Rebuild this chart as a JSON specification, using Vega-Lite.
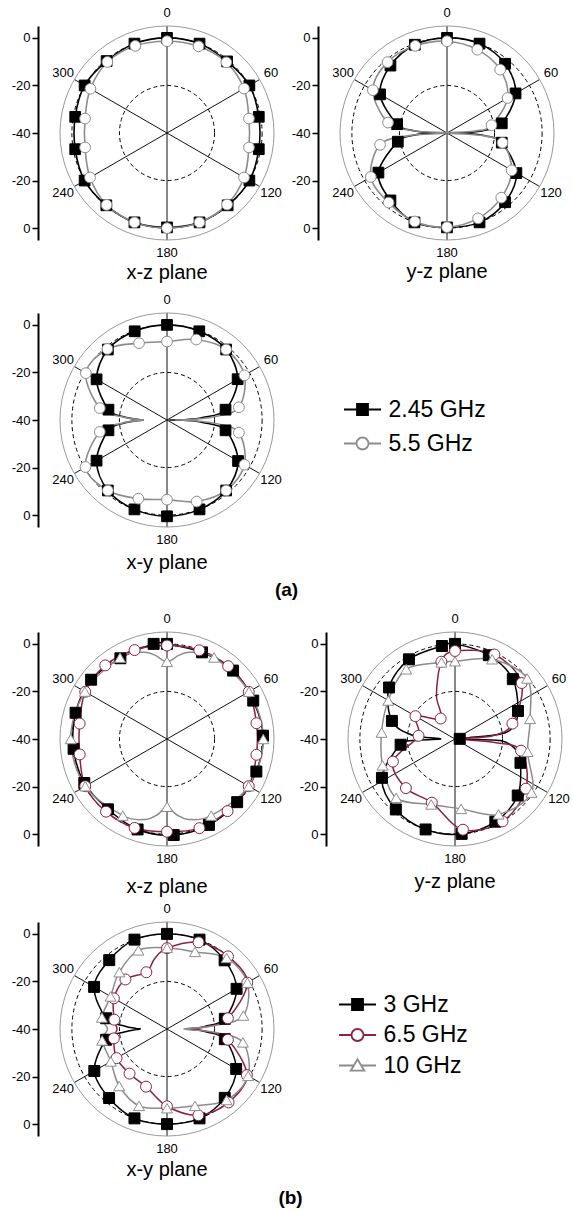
{
"$schema": "https://vega.github.io/schema/vega-lite/v6.json",
"padding": {"left": 11, "top": 6, "right": 0, "bottom": 5},
"config": {"view": {"stroke": null}, "font": "Liberation Sans"},
"datasets": {
"a_xz": [
{"f":"2.45 GHz","a":0,"d":0,"m":1},{"f":"2.45 GHz","a":20,"d":0,"m":1},{"f":"2.45 GHz","a":40,"d":-0.7,"m":1},{"f":"2.45 GHz","a":60,"d":0,"m":1},{"f":"2.45 GHz","a":80,"d":-0.8,"m":1},{"f":"2.45 GHz","a":100,"d":-0.8,"m":1},{"f":"2.45 GHz","a":120,"d":0,"m":1},{"f":"2.45 GHz","a":140,"d":-0.3,"m":1},{"f":"2.45 GHz","a":160,"d":0,"m":1},{"f":"2.45 GHz","a":180,"d":-0.3,"m":1},{"f":"2.45 GHz","a":200,"d":0,"m":1},{"f":"2.45 GHz","a":220,"d":-0.3,"m":1},{"f":"2.45 GHz","a":240,"d":0,"m":1},{"f":"2.45 GHz","a":260,"d":-0.8,"m":1},{"f":"2.45 GHz","a":280,"d":-0.8,"m":1},{"f":"2.45 GHz","a":300,"d":0,"m":1},{"f":"2.45 GHz","a":320,"d":-0.5,"m":1},{"f":"2.45 GHz","a":340,"d":0,"m":1},
{"f":"5.5 GHz","a":0,"d":-1.4,"m":1},{"f":"5.5 GHz","a":20,"d":-1.2,"m":1},{"f":"5.5 GHz","a":40,"d":-1.2,"m":1},{"f":"5.5 GHz","a":60,"d":-2.6,"m":1},{"f":"5.5 GHz","a":80,"d":-5,"m":1},{"f":"5.5 GHz","a":100,"d":-5,"m":1},{"f":"5.5 GHz","a":120,"d":-2.6,"m":1},{"f":"5.5 GHz","a":140,"d":-0.7,"m":1},{"f":"5.5 GHz","a":160,"d":0,"m":1},{"f":"5.5 GHz","a":180,"d":0,"m":1},{"f":"5.5 GHz","a":200,"d":0,"m":1},{"f":"5.5 GHz","a":220,"d":-0.5,"m":1},{"f":"5.5 GHz","a":240,"d":-2.6,"m":1},{"f":"5.5 GHz","a":260,"d":-5,"m":1},{"f":"5.5 GHz","a":280,"d":-5,"m":1},{"f":"5.5 GHz","a":300,"d":-2.8,"m":1},{"f":"5.5 GHz","a":320,"d":-1,"m":1},{"f":"5.5 GHz","a":340,"d":-1,"m":1}
],
"a_yz": [
{"f":"2.45 GHz","a":0,"d":0,"m":1},{"f":"2.45 GHz","a":20,"d":0,"m":1},{"f":"2.45 GHz","a":40,"d":-2,"m":1},{"f":"2.45 GHz","a":60,"d":-6.7,"m":1},{"f":"2.45 GHz","a":80,"d":-16.6,"m":1},{"f":"2.45 GHz","a":86,"d":-24,"m":0},{"f":"2.45 GHz","a":89,"d":-32,"m":0},{"f":"2.45 GHz","a":90,"d":-40,"m":0},{"f":"2.45 GHz","a":91,"d":-32,"m":0},{"f":"2.45 GHz","a":94,"d":-24,"m":0},{"f":"2.45 GHz","a":100,"d":-16.6,"m":1},{"f":"2.45 GHz","a":120,"d":-6.3,"m":1},{"f":"2.45 GHz","a":140,"d":-2,"m":1},{"f":"2.45 GHz","a":160,"d":0,"m":1},{"f":"2.45 GHz","a":180,"d":-0.3,"m":1},{"f":"2.45 GHz","a":200,"d":0,"m":1},{"f":"2.45 GHz","a":220,"d":-3,"m":1},{"f":"2.45 GHz","a":240,"d":-6.7,"m":1},{"f":"2.45 GHz","a":260,"d":-19,"m":1},{"f":"2.45 GHz","a":266,"d":-26,"m":0},{"f":"2.45 GHz","a":269,"d":-33,"m":0},{"f":"2.45 GHz","a":270,"d":-40,"m":0},{"f":"2.45 GHz","a":271,"d":-33,"m":0},{"f":"2.45 GHz","a":274,"d":-26,"m":0},{"f":"2.45 GHz","a":280,"d":-18.7,"m":1},{"f":"2.45 GHz","a":300,"d":-7.5,"m":1},{"f":"2.45 GHz","a":320,"d":-3,"m":1},{"f":"2.45 GHz","a":340,"d":-0.5,"m":1},
{"f":"5.5 GHz","a":0,"d":-1.4,"m":1},{"f":"5.5 GHz","a":20,"d":-2.7,"m":1},{"f":"5.5 GHz","a":40,"d":-5.2,"m":1},{"f":"5.5 GHz","a":60,"d":-10.6,"m":1},{"f":"5.5 GHz","a":80,"d":-21,"m":1},{"f":"5.5 GHz","a":86,"d":-28,"m":0},{"f":"5.5 GHz","a":90,"d":-40,"m":0},{"f":"5.5 GHz","a":94,"d":-26,"m":0},{"f":"5.5 GHz","a":100,"d":-16.3,"m":1},{"f":"5.5 GHz","a":120,"d":-8.6,"m":1},{"f":"5.5 GHz","a":140,"d":-4.5,"m":1},{"f":"5.5 GHz","a":160,"d":-1.8,"m":1},{"f":"5.5 GHz","a":180,"d":-0.4,"m":1},{"f":"5.5 GHz","a":200,"d":-0.4,"m":1},{"f":"5.5 GHz","a":220,"d":-1.8,"m":1},{"f":"5.5 GHz","a":240,"d":-3,"m":1},{"f":"5.5 GHz","a":260,"d":-11.4,"m":1},{"f":"5.5 GHz","a":266,"d":-24,"m":0},{"f":"5.5 GHz","a":270,"d":-40,"m":0},{"f":"5.5 GHz","a":274,"d":-26,"m":0},{"f":"5.5 GHz","a":280,"d":-14.8,"m":1},{"f":"5.5 GHz","a":300,"d":-4,"m":1},{"f":"5.5 GHz","a":320,"d":-1.1,"m":1},{"f":"5.5 GHz","a":340,"d":-1,"m":1}
],
"a_xy": [
{"f":"2.45 GHz","a":0,"d":0,"m":1},{"f":"2.45 GHz","a":20,"d":-0.3,"m":1},{"f":"2.45 GHz","a":40,"d":-1.3,"m":1},{"f":"2.45 GHz","a":60,"d":-5.7,"m":1},{"f":"2.45 GHz","a":80,"d":-15,"m":1},{"f":"2.45 GHz","a":86,"d":-25,"m":0},{"f":"2.45 GHz","a":89,"d":-33,"m":0},{"f":"2.45 GHz","a":90,"d":-39,"m":0},{"f":"2.45 GHz","a":91,"d":-33,"m":0},{"f":"2.45 GHz","a":94,"d":-25,"m":0},{"f":"2.45 GHz","a":100,"d":-15,"m":1},{"f":"2.45 GHz","a":120,"d":-5.5,"m":1},{"f":"2.45 GHz","a":140,"d":-1.3,"m":1},{"f":"2.45 GHz","a":160,"d":0,"m":1},{"f":"2.45 GHz","a":180,"d":0.5,"m":1},{"f":"2.45 GHz","a":200,"d":0,"m":1},{"f":"2.45 GHz","a":220,"d":-1.3,"m":1},{"f":"2.45 GHz","a":240,"d":-5.8,"m":1},{"f":"2.45 GHz","a":260,"d":-15,"m":1},{"f":"2.45 GHz","a":266,"d":-22,"m":0},{"f":"2.45 GHz","a":269,"d":-28,"m":0},{"f":"2.45 GHz","a":270,"d":-30,"m":0},{"f":"2.45 GHz","a":271,"d":-28,"m":0},{"f":"2.45 GHz","a":274,"d":-22,"m":0},{"f":"2.45 GHz","a":280,"d":-15,"m":1},{"f":"2.45 GHz","a":300,"d":-5.8,"m":1},{"f":"2.45 GHz","a":320,"d":-1.3,"m":1},{"f":"2.45 GHz","a":340,"d":-0.3,"m":1},
{"f":"5.5 GHz","a":0,"d":-7,"m":1},{"f":"5.5 GHz","a":20,"d":-4,"m":1},{"f":"5.5 GHz","a":40,"d":-1.3,"m":1},{"f":"5.5 GHz","a":60,"d":-2.4,"m":1},{"f":"5.5 GHz","a":80,"d":-9.3,"m":1},{"f":"5.5 GHz","a":86,"d":-20,"m":0},{"f":"5.5 GHz","a":89,"d":-31,"m":0},{"f":"5.5 GHz","a":90,"d":-36.5,"m":0},{"f":"5.5 GHz","a":91,"d":-31,"m":0},{"f":"5.5 GHz","a":94,"d":-20,"m":0},{"f":"5.5 GHz","a":100,"d":-9.3,"m":1},{"f":"5.5 GHz","a":120,"d":-2.4,"m":1},{"f":"5.5 GHz","a":140,"d":-1.3,"m":1},{"f":"5.5 GHz","a":160,"d":-3.5,"m":1},{"f":"5.5 GHz","a":180,"d":-6.5,"m":1},{"f":"5.5 GHz","a":200,"d":-4.8,"m":1},{"f":"5.5 GHz","a":220,"d":-1.3,"m":1},{"f":"5.5 GHz","a":240,"d":-0.4,"m":1},{"f":"5.5 GHz","a":260,"d":-11.3,"m":1},{"f":"5.5 GHz","a":266,"d":-21,"m":0},{"f":"5.5 GHz","a":269,"d":-28,"m":0},{"f":"5.5 GHz","a":270,"d":-30,"m":0},{"f":"5.5 GHz","a":271,"d":-28,"m":0},{"f":"5.5 GHz","a":274,"d":-21,"m":0},{"f":"5.5 GHz","a":280,"d":-11.3,"m":1},{"f":"5.5 GHz","a":300,"d":-0.6,"m":1},{"f":"5.5 GHz","a":320,"d":-1,"m":1},{"f":"5.5 GHz","a":340,"d":-5.6,"m":1}
],
"b_xz": [
{"f":"3 GHz","a":0,"d":0,"m":1},{"f":"3 GHz","a":22,"d":-0.7,"m":1},{"f":"3 GHz","a":44,"d":0,"m":1},{"f":"3 GHz","a":66,"d":-0.3,"m":1},{"f":"3 GHz","a":88,"d":0.4,"m":1},{"f":"3 GHz","a":110,"d":0,"m":1},{"f":"3 GHz","a":132,"d":-0.3,"m":1},{"f":"3 GHz","a":154,"d":0.2,"m":1},{"f":"3 GHz","a":176,"d":0.5,"m":1},{"f":"3 GHz","a":198,"d":0,"m":1},{"f":"3 GHz","a":220,"d":-1.4,"m":1},{"f":"3 GHz","a":242,"d":-0.6,"m":1},{"f":"3 GHz","a":264,"d":-0.5,"m":1},{"f":"3 GHz","a":286,"d":0,"m":1},{"f":"3 GHz","a":308,"d":0.5,"m":1},{"f":"3 GHz","a":330,"d":-0.8,"m":1},{"f":"3 GHz","a":352,"d":0.4,"m":1},
{"f":"6.5 GHz","a":0,"d":-0.7,"m":1},{"f":"6.5 GHz","a":20,"d":-0.3,"m":1},{"f":"6.5 GHz","a":40,"d":0,"m":1},{"f":"6.5 GHz","a":60,"d":-0.3,"m":1},{"f":"6.5 GHz","a":80,"d":-1.8,"m":1},{"f":"6.5 GHz","a":100,"d":-1.8,"m":1},{"f":"6.5 GHz","a":120,"d":-0.3,"m":1},{"f":"6.5 GHz","a":140,"d":-0.4,"m":1},{"f":"6.5 GHz","a":160,"d":-0.1,"m":1},{"f":"6.5 GHz","a":180,"d":-1,"m":1},{"f":"6.5 GHz","a":200,"d":-0.2,"m":1},{"f":"6.5 GHz","a":220,"d":-0.1,"m":1},{"f":"6.5 GHz","a":240,"d":-0.3,"m":1},{"f":"6.5 GHz","a":260,"d":-2.7,"m":1},{"f":"6.5 GHz","a":280,"d":-2.7,"m":1},{"f":"6.5 GHz","a":300,"d":-0.3,"m":1},{"f":"6.5 GHz","a":320,"d":0.4,"m":1},{"f":"6.5 GHz","a":340,"d":-0.2,"m":1},
{"f":"10 GHz","a":0,"d":-7.5,"m":1},{"f":"10 GHz","a":8,"d":-4.5,"m":0},{"f":"10 GHz","a":15,"d":-2.2,"m":0},{"f":"10 GHz","a":30,"d":-0.4,"m":1},{"f":"10 GHz","a":60,"d":-0.2,"m":1},{"f":"10 GHz","a":90,"d":0.5,"m":1},{"f":"10 GHz","a":120,"d":-0.3,"m":1},{"f":"10 GHz","a":150,"d":-2.8,"m":1},{"f":"10 GHz","a":165,"d":-5,"m":0},{"f":"10 GHz","a":173,"d":-8,"m":0},{"f":"10 GHz","a":180,"d":-11.5,"m":1},{"f":"10 GHz","a":187,"d":-8,"m":0},{"f":"10 GHz","a":195,"d":-5,"m":0},{"f":"10 GHz","a":210,"d":-2.8,"m":1},{"f":"10 GHz","a":240,"d":-0.3,"m":1},{"f":"10 GHz","a":270,"d":0.5,"m":1},{"f":"10 GHz","a":300,"d":-0.1,"m":1},{"f":"10 GHz","a":330,"d":-0.5,"m":1},{"f":"10 GHz","a":345,"d":-2.2,"m":0},{"f":"10 GHz","a":352,"d":-4.5,"m":0}
],
"b_yz": [
{"f":"3 GHz","a":0,"d":0,"m":1},{"f":"3 GHz","a":22,"d":-2,"m":1},{"f":"3 GHz","a":44,"d":-5,"m":1},{"f":"3 GHz","a":66,"d":-11,"m":1},{"f":"3 GHz","a":78,"d":-15,"m":0},{"f":"3 GHz","a":84,"d":-21,"m":0},{"f":"3 GHz","a":88,"d":-38,"m":1},{"f":"3 GHz","a":92,"d":-21,"m":0},{"f":"3 GHz","a":100,"d":-14,"m":0},{"f":"3 GHz","a":110,"d":-10.7,"m":1},{"f":"3 GHz","a":132,"d":-4.5,"m":1},{"f":"3 GHz","a":154,"d":-1.3,"m":1},{"f":"3 GHz","a":176,"d":0,"m":1},{"f":"3 GHz","a":198,"d":0,"m":1},{"f":"3 GHz","a":220,"d":-1.3,"m":1},{"f":"3 GHz","a":242,"d":-5.2,"m":1},{"f":"3 GHz","a":264,"d":-17,"m":1},{"f":"3 GHz","a":268,"d":-25,"m":0},{"f":"3 GHz","a":271,"d":-34,"m":0},{"f":"3 GHz","a":275,"d":-22,"m":0},{"f":"3 GHz","a":286,"d":-12.4,"m":1},{"f":"3 GHz","a":308,"d":-4.8,"m":1},{"f":"3 GHz","a":330,"d":-1.3,"m":1},{"f":"3 GHz","a":352,"d":-0.5,"m":1},
{"f":"6.5 GHz","a":0,"d":-3,"m":1},{"f":"6.5 GHz","a":25,"d":-0.8,"m":1},{"f":"6.5 GHz","a":50,"d":-3.4,"m":1},{"f":"6.5 GHz","a":75,"d":-15,"m":1},{"f":"6.5 GHz","a":85,"d":-24,"m":0},{"f":"6.5 GHz","a":90,"d":-38,"m":0},{"f":"6.5 GHz","a":95,"d":-24,"m":0},{"f":"6.5 GHz","a":100,"d":-11.8,"m":1},{"f":"6.5 GHz","a":125,"d":-3.6,"m":1},{"f":"6.5 GHz","a":150,"d":0,"m":1},{"f":"6.5 GHz","a":175,"d":-1.7,"m":1},{"f":"6.5 GHz","a":200,"d":-11.5,"m":1},{"f":"6.5 GHz","a":225,"d":-10.8,"m":1},{"f":"6.5 GHz","a":250,"d":-12.2,"m":1},{"f":"6.5 GHz","a":275,"d":-24.6,"m":1},{"f":"6.5 GHz","a":300,"d":-20.8,"m":1},{"f":"6.5 GHz","a":325,"d":-29.5,"m":1},{"f":"6.5 GHz","a":337,"d":-20,"m":0},{"f":"6.5 GHz","a":350,"d":-7,"m":1},
{"f":"10 GHz","a":0,"d":-7.3,"m":1},{"f":"10 GHz","a":25,"d":-3,"m":1},{"f":"10 GHz","a":50,"d":-0.4,"m":1},{"f":"10 GHz","a":75,"d":-7.3,"m":1},{"f":"10 GHz","a":100,"d":-9,"m":1},{"f":"10 GHz","a":125,"d":-0.7,"m":1},{"f":"10 GHz","a":150,"d":-3.4,"m":1},{"f":"10 GHz","a":175,"d":-10.5,"m":1},{"f":"10 GHz","a":200,"d":-10.7,"m":1},{"f":"10 GHz","a":225,"d":-5,"m":1},{"f":"10 GHz","a":250,"d":-7.6,"m":1},{"f":"10 GHz","a":275,"d":-9,"m":1},{"f":"10 GHz","a":300,"d":-7.6,"m":1},{"f":"10 GHz","a":325,"d":-4.2,"m":1},{"f":"10 GHz","a":350,"d":-7.3,"m":1}
],
"b_xy": [
{"f":"3 GHz","a":0,"d":0,"m":1},{"f":"3 GHz","a":20,"d":0,"m":1},{"f":"3 GHz","a":40,"d":-2.3,"m":1},{"f":"3 GHz","a":60,"d":-6.2,"m":1},{"f":"3 GHz","a":80,"d":-15.3,"m":1},{"f":"3 GHz","a":86,"d":-24,"m":0},{"f":"3 GHz","a":89,"d":-29,"m":0},{"f":"3 GHz","a":90,"d":-31,"m":0},{"f":"3 GHz","a":91,"d":-29,"m":0},{"f":"3 GHz","a":94,"d":-24,"m":0},{"f":"3 GHz","a":100,"d":-15.3,"m":1},{"f":"3 GHz","a":120,"d":-6.4,"m":1},{"f":"3 GHz","a":140,"d":-2.2,"m":1},{"f":"3 GHz","a":160,"d":0,"m":1},{"f":"3 GHz","a":180,"d":0,"m":1},{"f":"3 GHz","a":200,"d":0,"m":1},{"f":"3 GHz","a":220,"d":-2.1,"m":1},{"f":"3 GHz","a":240,"d":-4.7,"m":1},{"f":"3 GHz","a":260,"d":-14,"m":1},{"f":"3 GHz","a":266,"d":-22,"m":0},{"f":"3 GHz","a":269,"d":-27,"m":0},{"f":"3 GHz","a":270,"d":-28.8,"m":0},{"f":"3 GHz","a":271,"d":-27,"m":0},{"f":"3 GHz","a":274,"d":-22,"m":0},{"f":"3 GHz","a":280,"d":-14,"m":1},{"f":"3 GHz","a":300,"d":-4.6,"m":1},{"f":"3 GHz","a":320,"d":-2.2,"m":1},{"f":"3 GHz","a":340,"d":0,"m":1},
{"f":"6.5 GHz","a":0,"d":-6,"m":1},{"f":"6.5 GHz","a":20,"d":-1.2,"m":1},{"f":"6.5 GHz","a":40,"d":-0.1,"m":1},{"f":"6.5 GHz","a":60,"d":-1,"m":1},{"f":"6.5 GHz","a":80,"d":-14,"m":1},{"f":"6.5 GHz","a":87,"d":-24,"m":0},{"f":"6.5 GHz","a":90,"d":-32,"m":0},{"f":"6.5 GHz","a":93,"d":-24,"m":0},{"f":"6.5 GHz","a":100,"d":-14,"m":1},{"f":"6.5 GHz","a":120,"d":-1.2,"m":1},{"f":"6.5 GHz","a":140,"d":0.3,"m":1},{"f":"6.5 GHz","a":160,"d":-1.4,"m":1},{"f":"6.5 GHz","a":180,"d":-7.5,"m":1},{"f":"6.5 GHz","a":200,"d":-14.2,"m":1},{"f":"6.5 GHz","a":220,"d":-15.5,"m":1},{"f":"6.5 GHz","a":240,"d":-15.5,"m":1},{"f":"6.5 GHz","a":260,"d":-17.3,"m":1},{"f":"6.5 GHz","a":270,"d":-19,"m":0},{"f":"6.5 GHz","a":280,"d":-17.5,"m":1},{"f":"6.5 GHz","a":300,"d":-14.2,"m":1},{"f":"6.5 GHz","a":320,"d":-12.8,"m":1},{"f":"6.5 GHz","a":340,"d":-14.6,"m":1},{"f":"6.5 GHz","a":350,"d":-10,"m":0},
{"f":"10 GHz","a":0,"d":-5.9,"m":1},{"f":"10 GHz","a":20,"d":-5.5,"m":1},{"f":"10 GHz","a":40,"d":-1,"m":1},{"f":"10 GHz","a":60,"d":-1,"m":1},{"f":"10 GHz","a":80,"d":-7.4,"m":1},{"f":"10 GHz","a":86,"d":-20,"m":0},{"f":"10 GHz","a":90,"d":-33,"m":0},{"f":"10 GHz","a":94,"d":-20,"m":0},{"f":"10 GHz","a":100,"d":-7.6,"m":1},{"f":"10 GHz","a":120,"d":-0.6,"m":1},{"f":"10 GHz","a":140,"d":-1,"m":1},{"f":"10 GHz","a":160,"d":-5.6,"m":1},{"f":"10 GHz","a":180,"d":-6.7,"m":1},{"f":"10 GHz","a":200,"d":-5.6,"m":1},{"f":"10 GHz","a":220,"d":-8.7,"m":1},{"f":"10 GHz","a":240,"d":-12.7,"m":1},{"f":"10 GHz","a":260,"d":-12.3,"m":1},{"f":"10 GHz","a":270,"d":-15,"m":0},{"f":"10 GHz","a":280,"d":-12.2,"m":1},{"f":"10 GHz","a":300,"d":-12.6,"m":1},{"f":"10 GHz","a":320,"d":-8.8,"m":1},{"f":"10 GHz","a":340,"d":-4.8,"m":1}
]
},
"resolve": {"scale": {"shape": "independent", "fill": "independent", "stroke": "independent", "size": "independent"}, "legend": {"shape": "independent", "fill": "independent", "stroke": "independent", "size": "independent"}},
"spacing": 11,
"vconcat": [
{
"title": {"text": "(a)", "orient": "bottom", "anchor": "middle", "fontSize": 19, "fontWeight": "bold", "font": "Liberation Sans", "color": "#000", "offset": 8},
"resolve": {"scale": {"shape": "independent", "fill": "independent", "stroke": "independent", "size": "independent"}, "legend": {"shape": "independent", "fill": "independent", "stroke": "independent", "size": "independent"}},
"spacing": 9,
"vconcat": [
{
"bounds": "flush",
"spacing": 66,
"resolve": {"scale": {"shape": "independent", "fill": "independent", "stroke": "independent", "size": "independent"}, "legend": {"shape": "independent", "fill": "independent", "stroke": "independent", "size": "independent"}},
"hconcat": [
{
"width": 214, "height": 214,
"title": {"text": "x-z plane", "orient": "bottom", "frame": "group", "anchor": "middle", "fontSize": 20, "fontWeight": "normal", "font": "Liberation Sans", "color": "#000", "offset": 3},
"layer": [
{"data": {"values": [{"a": 0}, {"a": 60}, {"a": 120}]}, "transform": [{"calculate": "45*sin(datum.a*PI/180)", "as": "x"}, {"calculate": "45*cos(datum.a*PI/180)", "as": "y"}, {"calculate": "-datum.x", "as": "x2"}, {"calculate": "-datum.y", "as": "y2"}], "mark": {"type": "rule", "color": "#111", "strokeWidth": 1}, "encoding": {"x": {"field": "x", "type": "quantitative", "scale": {"domain": [-45, 45], "nice": false, "zero": false}, "axis": null}, "y": {"field": "y", "type": "quantitative", "scale": {"domain": [-45, 45], "nice": false, "zero": false}, "axis": {"values": [-40,-35,-30,-25,-20,-15,-10,-5,0,5,10,15,20,25,30,35,40], "labelExpr": "datum.value % 20 === 0 ? '' + (abs(datum.value) - 40) : ''", "offset": 22, "title": null, "grid": false, "domainColor": "#000", "domainWidth": 2, "tickColor": "#000", "tickWidth": 1.5, "tickSize": {"condition": {"test": "datum.value % 20 === 0", "value": 6}, "value": 3}, "labelFontSize": 13, "labelFont": "Liberation Sans", "labelColor": "#000", "labelPadding": 2, "labelOverlap": false, "labelFlush": false, "labelBound": false}}, "x2": {"field": "x2"}, "y2": {"field": "y2"}}},
{"data": {"values": [{"r": 45}]}, "mark": {"type": "point", "shape": "circle", "filled": false, "stroke": "#9a9a9a", "strokeWidth": 1, "opacity": 1}, "encoding": {"x": {"datum": 0, "type": "quantitative", "scale": {"domain": [-45, 45], "nice": false, "zero": false}, "axis": null}, "y": {"datum": 0, "type": "quantitative", "scale": {"domain": [-45, 45], "nice": false, "zero": false}}, "size": {"field": "r", "type": "quantitative", "scale": {"type": "pow", "exponent": 2, "domain": [0, 45], "range": [0, 45796]}, "legend": null}}},
{"data": {"values": [{"r": 20}, {"r": 40}]}, "mark": {"type": "point", "shape": "circle", "filled": false, "stroke": "#000", "strokeWidth": 1, "strokeDash": [4, 3], "opacity": 1}, "encoding": {"x": {"datum": 0, "type": "quantitative", "scale": {"domain": [-45, 45], "nice": false, "zero": false}, "axis": null}, "y": {"datum": 0, "type": "quantitative", "scale": {"domain": [-45, 45], "nice": false, "zero": false}}, "size": {"field": "r", "type": "quantitative", "scale": {"type": "pow", "exponent": 2, "domain": [0, 45], "range": [0, 45796]}, "legend": null}}},
{"data": {"values": [{"a": 0, "t": "0"}, {"a": 60, "t": "60"}, {"a": 120, "t": "120"}, {"a": 180, "t": "180"}, {"a": 240, "t": "240"}, {"a": 300, "t": "300"}]}, "transform": [{"calculate": "50.5*sin(datum.a*PI/180)", "as": "x"}, {"calculate": "50.5*cos(datum.a*PI/180)", "as": "y"}], "mark": {"type": "text", "fontSize": 13, "font": "Liberation Sans", "color": "#000", "align": "center", "baseline": "middle"}, "encoding": {"x": {"field": "x", "type": "quantitative", "scale": {"domain": [-45, 45], "nice": false, "zero": false}, "axis": null}, "y": {"field": "y", "type": "quantitative", "scale": {"domain": [-45, 45], "nice": false, "zero": false}}, "text": {"field": "t"}}},
{"data": {"name": "a_xz"}, "transform": [{"calculate": "max(datum.d + 40, 0)", "as": "rr"}, {"calculate": "datum.rr*sin(datum.a*PI/180)", "as": "x"}, {"calculate": "datum.rr*cos(datum.a*PI/180)", "as": "y"}], "mark": {"type": "line", "interpolate": "cardinal-closed", "strokeWidth": 1.6}, "encoding": {"x": {"field": "x", "type": "quantitative", "scale": {"domain": [-45, 45], "nice": false, "zero": false}, "axis": null}, "y": {"field": "y", "type": "quantitative", "scale": {"domain": [-45, 45], "nice": false, "zero": false}}, "order": {"field": "a", "type": "quantitative"}, "stroke": {"field": "f", "type": "nominal", "scale": {"domain": ["2.45 GHz", "5.5 GHz"], "range": ["#000000", "#8c8c8c"]}, "legend": null}}},
{"data": {"name": "a_xz"}, "transform": [{"filter": "datum.m === 1"}, {"calculate": "max(datum.d + 40, 0)", "as": "rr"}, {"calculate": "datum.rr*sin(datum.a*PI/180)", "as": "x"}, {"calculate": "datum.rr*cos(datum.a*PI/180)", "as": "y"}], "mark": {"type": "point", "opacity": 1, "strokeWidth": 1, "size": 115}, "encoding": {"x": {"field": "x", "type": "quantitative", "scale": {"domain": [-45, 45], "nice": false, "zero": false}, "axis": null}, "y": {"field": "y", "type": "quantitative", "scale": {"domain": [-45, 45], "nice": false, "zero": false}}, "shape": {"field": "f", "type": "nominal", "scale": {"domain": ["2.45 GHz", "5.5 GHz"], "range": ["square", "circle"]}, "legend": null}, "fill": {"field": "f", "type": "nominal", "scale": {"domain": ["2.45 GHz", "5.5 GHz"], "range": ["#000000", "#ffffff"]}, "legend": null}, "stroke": {"field": "f", "type": "nominal", "scale": {"domain": ["2.45 GHz", "5.5 GHz"], "range": ["#000000", "#8c8c8c"]}, "legend": null}}}
]
},
{
"width": 214, "height": 214,
"title": {"text": "y-z plane", "orient": "bottom", "frame": "group", "anchor": "middle", "fontSize": 20, "fontWeight": "normal", "font": "Liberation Sans", "color": "#000", "offset": 2},
"layer": [
{"data": {"values": [{"a": 0}, {"a": 60}, {"a": 120}]}, "transform": [{"calculate": "45*sin(datum.a*PI/180)", "as": "x"}, {"calculate": "45*cos(datum.a*PI/180)", "as": "y"}, {"calculate": "-datum.x", "as": "x2"}, {"calculate": "-datum.y", "as": "y2"}], "mark": {"type": "rule", "color": "#111", "strokeWidth": 1}, "encoding": {"x": {"field": "x", "type": "quantitative", "scale": {"domain": [-45, 45], "nice": false, "zero": false}, "axis": null}, "y": {"field": "y", "type": "quantitative", "scale": {"domain": [-45, 45], "nice": false, "zero": false}, "axis": {"values": [-40,-35,-30,-25,-20,-15,-10,-5,0,5,10,15,20,25,30,35,40], "labelExpr": "datum.value % 20 === 0 ? '' + (abs(datum.value) - 40) : ''", "offset": 22, "title": null, "grid": false, "domainColor": "#000", "domainWidth": 2, "tickColor": "#000", "tickWidth": 1.5, "tickSize": {"condition": {"test": "datum.value % 20 === 0", "value": 6}, "value": 3}, "labelFontSize": 13, "labelFont": "Liberation Sans", "labelColor": "#000", "labelPadding": 2, "labelOverlap": false, "labelFlush": false, "labelBound": false}}, "x2": {"field": "x2"}, "y2": {"field": "y2"}}},
{"data": {"values": [{"r": 45}]}, "mark": {"type": "point", "shape": "circle", "filled": false, "stroke": "#9a9a9a", "strokeWidth": 1, "opacity": 1}, "encoding": {"x": {"datum": 0, "type": "quantitative", "scale": {"domain": [-45, 45], "nice": false, "zero": false}, "axis": null}, "y": {"datum": 0, "type": "quantitative", "scale": {"domain": [-45, 45], "nice": false, "zero": false}}, "size": {"field": "r", "type": "quantitative", "scale": {"type": "pow", "exponent": 2, "domain": [0, 45], "range": [0, 45796]}, "legend": null}}},
{"data": {"values": [{"r": 20}, {"r": 40}]}, "mark": {"type": "point", "shape": "circle", "filled": false, "stroke": "#000", "strokeWidth": 1, "strokeDash": [4, 3], "opacity": 1}, "encoding": {"x": {"datum": 0, "type": "quantitative", "scale": {"domain": [-45, 45], "nice": false, "zero": false}, "axis": null}, "y": {"datum": 0, "type": "quantitative", "scale": {"domain": [-45, 45], "nice": false, "zero": false}}, "size": {"field": "r", "type": "quantitative", "scale": {"type": "pow", "exponent": 2, "domain": [0, 45], "range": [0, 45796]}, "legend": null}}},
{"data": {"values": [{"a": 0, "t": "0"}, {"a": 60, "t": "60"}, {"a": 120, "t": "120"}, {"a": 180, "t": "180"}, {"a": 240, "t": "240"}, {"a": 300, "t": "300"}]}, "transform": [{"calculate": "50.5*sin(datum.a*PI/180)", "as": "x"}, {"calculate": "50.5*cos(datum.a*PI/180)", "as": "y"}], "mark": {"type": "text", "fontSize": 13, "font": "Liberation Sans", "color": "#000", "align": "center", "baseline": "middle"}, "encoding": {"x": {"field": "x", "type": "quantitative", "scale": {"domain": [-45, 45], "nice": false, "zero": false}, "axis": null}, "y": {"field": "y", "type": "quantitative", "scale": {"domain": [-45, 45], "nice": false, "zero": false}}, "text": {"field": "t"}}},
{"data": {"name": "a_yz"}, "transform": [{"calculate": "max(datum.d + 40, 0)", "as": "rr"}, {"calculate": "datum.rr*sin(datum.a*PI/180)", "as": "x"}, {"calculate": "datum.rr*cos(datum.a*PI/180)", "as": "y"}], "mark": {"type": "line", "interpolate": "cardinal-closed", "strokeWidth": 1.6}, "encoding": {"x": {"field": "x", "type": "quantitative", "scale": {"domain": [-45, 45], "nice": false, "zero": false}, "axis": null}, "y": {"field": "y", "type": "quantitative", "scale": {"domain": [-45, 45], "nice": false, "zero": false}}, "order": {"field": "a", "type": "quantitative"}, "stroke": {"field": "f", "type": "nominal", "scale": {"domain": ["2.45 GHz", "5.5 GHz"], "range": ["#000000", "#8c8c8c"]}, "legend": null}}},
{"data": {"name": "a_yz"}, "transform": [{"filter": "datum.m === 1"}, {"calculate": "max(datum.d + 40, 0)", "as": "rr"}, {"calculate": "datum.rr*sin(datum.a*PI/180)", "as": "x"}, {"calculate": "datum.rr*cos(datum.a*PI/180)", "as": "y"}], "mark": {"type": "point", "opacity": 1, "strokeWidth": 1, "size": 115}, "encoding": {"x": {"field": "x", "type": "quantitative", "scale": {"domain": [-45, 45], "nice": false, "zero": false}, "axis": null}, "y": {"field": "y", "type": "quantitative", "scale": {"domain": [-45, 45], "nice": false, "zero": false}}, "shape": {"field": "f", "type": "nominal", "scale": {"domain": ["2.45 GHz", "5.5 GHz"], "range": ["square", "circle"]}, "legend": null}, "fill": {"field": "f", "type": "nominal", "scale": {"domain": ["2.45 GHz", "5.5 GHz"], "range": ["#000000", "#ffffff"]}, "legend": null}, "stroke": {"field": "f", "type": "nominal", "scale": {"domain": ["2.45 GHz", "5.5 GHz"], "range": ["#000000", "#8c8c8c"]}, "legend": null}}}
]
}
]
},
{
"width": 214, "height": 214,
"title": {"text": "x-y plane", "orient": "bottom", "frame": "group", "anchor": "middle", "fontSize": 20, "fontWeight": "normal", "font": "Liberation Sans", "color": "#000", "offset": 6},
"resolve": {"scale": {"shape": "independent", "fill": "independent", "stroke": "independent"}, "legend": {"shape": "independent", "fill": "independent", "stroke": "independent"}},
"layer": [
{"data": {"values": [{"a": 0}, {"a": 60}, {"a": 120}]}, "transform": [{"calculate": "45*sin(datum.a*PI/180)", "as": "x"}, {"calculate": "45*cos(datum.a*PI/180)", "as": "y"}, {"calculate": "-datum.x", "as": "x2"}, {"calculate": "-datum.y", "as": "y2"}], "mark": {"type": "rule", "color": "#111", "strokeWidth": 1}, "encoding": {"x": {"field": "x", "type": "quantitative", "scale": {"domain": [-45, 45], "nice": false, "zero": false}, "axis": null}, "y": {"field": "y", "type": "quantitative", "scale": {"domain": [-45, 45], "nice": false, "zero": false}, "axis": {"values": [-40,-35,-30,-25,-20,-15,-10,-5,0,5,10,15,20,25,30,35,40], "labelExpr": "datum.value % 20 === 0 ? '' + (abs(datum.value) - 40) : ''", "offset": 22, "title": null, "grid": false, "domainColor": "#000", "domainWidth": 2, "tickColor": "#000", "tickWidth": 1.5, "tickSize": {"condition": {"test": "datum.value % 20 === 0", "value": 6}, "value": 3}, "labelFontSize": 13, "labelFont": "Liberation Sans", "labelColor": "#000", "labelPadding": 2, "labelOverlap": false, "labelFlush": false, "labelBound": false}}, "x2": {"field": "x2"}, "y2": {"field": "y2"}}},
{"data": {"values": [{"r": 45}]}, "mark": {"type": "point", "shape": "circle", "filled": false, "stroke": "#9a9a9a", "strokeWidth": 1, "opacity": 1}, "encoding": {"x": {"datum": 0, "type": "quantitative", "scale": {"domain": [-45, 45], "nice": false, "zero": false}, "axis": null}, "y": {"datum": 0, "type": "quantitative", "scale": {"domain": [-45, 45], "nice": false, "zero": false}}, "size": {"field": "r", "type": "quantitative", "scale": {"type": "pow", "exponent": 2, "domain": [0, 45], "range": [0, 45796]}, "legend": null}}},
{"data": {"values": [{"r": 20}, {"r": 40}]}, "mark": {"type": "point", "shape": "circle", "filled": false, "stroke": "#000", "strokeWidth": 1, "strokeDash": [4, 3], "opacity": 1}, "encoding": {"x": {"datum": 0, "type": "quantitative", "scale": {"domain": [-45, 45], "nice": false, "zero": false}, "axis": null}, "y": {"datum": 0, "type": "quantitative", "scale": {"domain": [-45, 45], "nice": false, "zero": false}}, "size": {"field": "r", "type": "quantitative", "scale": {"type": "pow", "exponent": 2, "domain": [0, 45], "range": [0, 45796]}, "legend": null}}},
{"data": {"values": [{"a": 0, "t": "0"}, {"a": 60, "t": "60"}, {"a": 120, "t": "120"}, {"a": 180, "t": "180"}, {"a": 240, "t": "240"}, {"a": 300, "t": "300"}]}, "transform": [{"calculate": "50.5*sin(datum.a*PI/180)", "as": "x"}, {"calculate": "50.5*cos(datum.a*PI/180)", "as": "y"}], "mark": {"type": "text", "fontSize": 13, "font": "Liberation Sans", "color": "#000", "align": "center", "baseline": "middle"}, "encoding": {"x": {"field": "x", "type": "quantitative", "scale": {"domain": [-45, 45], "nice": false, "zero": false}, "axis": null}, "y": {"field": "y", "type": "quantitative", "scale": {"domain": [-45, 45], "nice": false, "zero": false}}, "text": {"field": "t"}}},
{"data": {"name": "a_xy"}, "transform": [{"calculate": "max(datum.d + 40, 0)", "as": "rr"}, {"calculate": "datum.rr*sin(datum.a*PI/180)", "as": "x"}, {"calculate": "datum.rr*cos(datum.a*PI/180)", "as": "y"}], "mark": {"type": "line", "interpolate": "cardinal-closed", "strokeWidth": 1.6}, "encoding": {"x": {"field": "x", "type": "quantitative", "scale": {"domain": [-45, 45], "nice": false, "zero": false}, "axis": null}, "y": {"field": "y", "type": "quantitative", "scale": {"domain": [-45, 45], "nice": false, "zero": false}}, "order": {"field": "a", "type": "quantitative"}, "stroke": {"field": "f", "type": "nominal", "scale": {"domain": ["2.45 GHz", "5.5 GHz"], "range": ["#000000", "#8c8c8c"]}, "legend": null}}},
{"data": {"name": "a_xy"}, "transform": [{"filter": "datum.m === 1"}, {"calculate": "max(datum.d + 40, 0)", "as": "rr"}, {"calculate": "datum.rr*sin(datum.a*PI/180)", "as": "x"}, {"calculate": "datum.rr*cos(datum.a*PI/180)", "as": "y"}], "mark": {"type": "point", "opacity": 1, "strokeWidth": 1, "size": 115}, "encoding": {"x": {"field": "x", "type": "quantitative", "scale": {"domain": [-45, 45], "nice": false, "zero": false}, "axis": null}, "y": {"field": "y", "type": "quantitative", "scale": {"domain": [-45, 45], "nice": false, "zero": false}}, "shape": {"field": "f", "type": "nominal", "scale": {"domain": ["2.45 GHz", "5.5 GHz"], "range": ["square", "circle"]}, "legend": null}, "fill": {"field": "f", "type": "nominal", "scale": {"domain": ["2.45 GHz", "5.5 GHz"], "range": ["#000000", "#ffffff"]}, "legend": null}, "stroke": {"field": "f", "type": "nominal", "scale": {"domain": ["2.45 GHz", "5.5 GHz"], "range": ["#000000", "#8c8c8c"]}, "legend": null}}},
{"data": {"name": "a_xy"}, "transform": [{"filter": "false"}], "mark": {"type": "point", "opacity": 1, "strokeWidth": 1.8}, "encoding": {
"shape": {"field": "f", "type": "nominal", "scale": {"domain": ["2.45 GHz", "5.5 GHz"], "range": ["M-1.85,0H-0.55M0.55,0H1.85M-0.55,-0.55H0.55V0.55H-0.55Z", "M-1.85,0H-0.6M0.6,0H1.85M-0.6,0A0.6,0.6,0,1,1,0.6,0A0.6,0.6,0,1,1,-0.6,0Z"]}, "legend": {"title": null, "orient": "none", "legendX": 291, "legendY": 85, "labelFontSize": 23, "labelFont": "Liberation Sans", "labelColor": "#000", "labelOffset": 14.5, "rowPadding": 10, "symbolSize": 400, "symbolStrokeWidth": 1.8, "labelLimit": 300}},
"fill": {"field": "f", "type": "nominal", "scale": {"domain": ["2.45 GHz", "5.5 GHz"], "range": ["#000000", "#ffffff"]}, "legend": {"title": null, "orient": "none", "legendX": 291, "legendY": 85, "labelFontSize": 23, "labelFont": "Liberation Sans", "labelColor": "#000", "labelOffset": 14.5, "rowPadding": 10, "symbolSize": 400, "symbolStrokeWidth": 1.8, "labelLimit": 300}},
"stroke": {"field": "f", "type": "nominal", "scale": {"domain": ["2.45 GHz", "5.5 GHz"], "range": ["#000000", "#8c8c8c"]}, "legend": {"title": null, "orient": "none", "legendX": 291, "legendY": 85, "labelFontSize": 23, "labelFont": "Liberation Sans", "labelColor": "#000", "labelOffset": 14.5, "rowPadding": 10, "symbolSize": 400, "symbolStrokeWidth": 1.8, "labelLimit": 300}}}}
]
}
]
},
{
"title": {"text": "(b)", "orient": "bottom", "anchor": "middle", "fontSize": 19, "fontWeight": "bold", "font": "Liberation Sans", "color": "#000", "offset": 9},
"resolve": {"scale": {"shape": "independent", "fill": "independent", "stroke": "independent", "size": "independent"}, "legend": {"shape": "independent", "fill": "independent", "stroke": "independent", "size": "independent"}},
"spacing": 4,
"vconcat": [
{
"bounds": "flush",
"spacing": 74,
"resolve": {"scale": {"shape": "independent", "fill": "independent", "stroke": "independent", "size": "independent"}, "legend": {"shape": "independent", "fill": "independent", "stroke": "independent", "size": "independent"}},
"hconcat": [
{
"width": 214, "height": 214,
"title": {"text": "x-z plane", "orient": "bottom", "frame": "group", "anchor": "middle", "fontSize": 20, "fontWeight": "normal", "font": "Liberation Sans", "color": "#000", "offset": 11},
"layer": [
{"data": {"values": [{"a": 0}, {"a": 60}, {"a": 120}]}, "transform": [{"calculate": "45*sin(datum.a*PI/180)", "as": "x"}, {"calculate": "45*cos(datum.a*PI/180)", "as": "y"}, {"calculate": "-datum.x", "as": "x2"}, {"calculate": "-datum.y", "as": "y2"}], "mark": {"type": "rule", "color": "#111", "strokeWidth": 1}, "encoding": {"x": {"field": "x", "type": "quantitative", "scale": {"domain": [-45, 45], "nice": false, "zero": false}, "axis": null}, "y": {"field": "y", "type": "quantitative", "scale": {"domain": [-45, 45], "nice": false, "zero": false}, "axis": {"values": [-40,-35,-30,-25,-20,-15,-10,-5,0,5,10,15,20,25,30,35,40], "labelExpr": "datum.value % 20 === 0 ? '' + (abs(datum.value) - 40) : ''", "offset": 22, "title": null, "grid": false, "domainColor": "#000", "domainWidth": 2, "tickColor": "#000", "tickWidth": 1.5, "tickSize": {"condition": {"test": "datum.value % 20 === 0", "value": 6}, "value": 3}, "labelFontSize": 13, "labelFont": "Liberation Sans", "labelColor": "#000", "labelPadding": 2, "labelOverlap": false, "labelFlush": false, "labelBound": false}}, "x2": {"field": "x2"}, "y2": {"field": "y2"}}},
{"data": {"values": [{"r": 45}]}, "mark": {"type": "point", "shape": "circle", "filled": false, "stroke": "#9a9a9a", "strokeWidth": 1, "opacity": 1}, "encoding": {"x": {"datum": 0, "type": "quantitative", "scale": {"domain": [-45, 45], "nice": false, "zero": false}, "axis": null}, "y": {"datum": 0, "type": "quantitative", "scale": {"domain": [-45, 45], "nice": false, "zero": false}}, "size": {"field": "r", "type": "quantitative", "scale": {"type": "pow", "exponent": 2, "domain": [0, 45], "range": [0, 45796]}, "legend": null}}},
{"data": {"values": [{"r": 20}, {"r": 40}]}, "mark": {"type": "point", "shape": "circle", "filled": false, "stroke": "#000", "strokeWidth": 1, "strokeDash": [4, 3], "opacity": 1}, "encoding": {"x": {"datum": 0, "type": "quantitative", "scale": {"domain": [-45, 45], "nice": false, "zero": false}, "axis": null}, "y": {"datum": 0, "type": "quantitative", "scale": {"domain": [-45, 45], "nice": false, "zero": false}}, "size": {"field": "r", "type": "quantitative", "scale": {"type": "pow", "exponent": 2, "domain": [0, 45], "range": [0, 45796]}, "legend": null}}},
{"data": {"values": [{"a": 0, "t": "0"}, {"a": 60, "t": "60"}, {"a": 120, "t": "120"}, {"a": 180, "t": "180"}, {"a": 240, "t": "240"}, {"a": 300, "t": "300"}]}, "transform": [{"calculate": "50.5*sin(datum.a*PI/180)", "as": "x"}, {"calculate": "50.5*cos(datum.a*PI/180)", "as": "y"}], "mark": {"type": "text", "fontSize": 13, "font": "Liberation Sans", "color": "#000", "align": "center", "baseline": "middle"}, "encoding": {"x": {"field": "x", "type": "quantitative", "scale": {"domain": [-45, 45], "nice": false, "zero": false}, "axis": null}, "y": {"field": "y", "type": "quantitative", "scale": {"domain": [-45, 45], "nice": false, "zero": false}}, "text": {"field": "t"}}},
{"data": {"name": "b_xz"}, "transform": [{"calculate": "max(datum.d + 40, 0)", "as": "rr"}, {"calculate": "datum.rr*sin(datum.a*PI/180)", "as": "x"}, {"calculate": "datum.rr*cos(datum.a*PI/180)", "as": "y"}], "mark": {"type": "line", "interpolate": "cardinal-closed", "strokeWidth": 1.5}, "encoding": {"x": {"field": "x", "type": "quantitative", "scale": {"domain": [-45, 45], "nice": false, "zero": false}, "axis": null}, "y": {"field": "y", "type": "quantitative", "scale": {"domain": [-45, 45], "nice": false, "zero": false}}, "order": {"field": "a", "type": "quantitative"}, "stroke": {"field": "f", "type": "nominal", "scale": {"domain": ["3 GHz", "6.5 GHz", "10 GHz"], "range": ["#000000", "#8b2246", "#8c8c8c"]}, "legend": null}}},
{"data": {"name": "b_xz"}, "transform": [{"filter": "datum.m === 1"}, {"calculate": "max(datum.d + 40, 0)", "as": "rr"}, {"calculate": "datum.rr*sin(datum.a*PI/180)", "as": "x"}, {"calculate": "datum.rr*cos(datum.a*PI/180)", "as": "y"}], "mark": {"type": "point", "opacity": 1, "strokeWidth": 1, "size": 120}, "encoding": {"x": {"field": "x", "type": "quantitative", "scale": {"domain": [-45, 45], "nice": false, "zero": false}, "axis": null}, "y": {"field": "y", "type": "quantitative", "scale": {"domain": [-45, 45], "nice": false, "zero": false}}, "shape": {"field": "f", "type": "nominal", "scale": {"domain": ["3 GHz", "6.5 GHz", "10 GHz"], "range": ["square", "circle", "triangle-up"]}, "legend": null}, "fill": {"field": "f", "type": "nominal", "scale": {"domain": ["3 GHz", "6.5 GHz", "10 GHz"], "range": ["#000000", "#ffffff", "#ffffff"]}, "legend": null}, "stroke": {"field": "f", "type": "nominal", "scale": {"domain": ["3 GHz", "6.5 GHz", "10 GHz"], "range": ["#000000", "#8b2246", "#8c8c8c"]}, "legend": null}}}
]
},
{
"width": 214, "height": 214,
"title": {"text": "y-z plane", "orient": "bottom", "frame": "group", "anchor": "middle", "fontSize": 20, "fontWeight": "normal", "font": "Liberation Sans", "color": "#000", "offset": 6},
"layer": [
{"data": {"values": [{"a": 0}, {"a": 60}, {"a": 120}]}, "transform": [{"calculate": "45*sin(datum.a*PI/180)", "as": "x"}, {"calculate": "45*cos(datum.a*PI/180)", "as": "y"}, {"calculate": "-datum.x", "as": "x2"}, {"calculate": "-datum.y", "as": "y2"}], "mark": {"type": "rule", "color": "#111", "strokeWidth": 1}, "encoding": {"x": {"field": "x", "type": "quantitative", "scale": {"domain": [-45, 45], "nice": false, "zero": false}, "axis": null}, "y": {"field": "y", "type": "quantitative", "scale": {"domain": [-45, 45], "nice": false, "zero": false}, "axis": {"values": [-40,-35,-30,-25,-20,-15,-10,-5,0,5,10,15,20,25,30,35,40], "labelExpr": "datum.value % 20 === 0 ? '' + (abs(datum.value) - 40) : ''", "offset": 22, "title": null, "grid": false, "domainColor": "#000", "domainWidth": 2, "tickColor": "#000", "tickWidth": 1.5, "tickSize": {"condition": {"test": "datum.value % 20 === 0", "value": 6}, "value": 3}, "labelFontSize": 13, "labelFont": "Liberation Sans", "labelColor": "#000", "labelPadding": 2, "labelOverlap": false, "labelFlush": false, "labelBound": false}}, "x2": {"field": "x2"}, "y2": {"field": "y2"}}},
{"data": {"values": [{"r": 45}]}, "mark": {"type": "point", "shape": "circle", "filled": false, "stroke": "#9a9a9a", "strokeWidth": 1, "opacity": 1}, "encoding": {"x": {"datum": 0, "type": "quantitative", "scale": {"domain": [-45, 45], "nice": false, "zero": false}, "axis": null}, "y": {"datum": 0, "type": "quantitative", "scale": {"domain": [-45, 45], "nice": false, "zero": false}}, "size": {"field": "r", "type": "quantitative", "scale": {"type": "pow", "exponent": 2, "domain": [0, 45], "range": [0, 45796]}, "legend": null}}},
{"data": {"values": [{"r": 20}, {"r": 40}]}, "mark": {"type": "point", "shape": "circle", "filled": false, "stroke": "#000", "strokeWidth": 1, "strokeDash": [4, 3], "opacity": 1}, "encoding": {"x": {"datum": 0, "type": "quantitative", "scale": {"domain": [-45, 45], "nice": false, "zero": false}, "axis": null}, "y": {"datum": 0, "type": "quantitative", "scale": {"domain": [-45, 45], "nice": false, "zero": false}}, "size": {"field": "r", "type": "quantitative", "scale": {"type": "pow", "exponent": 2, "domain": [0, 45], "range": [0, 45796]}, "legend": null}}},
{"data": {"values": [{"a": 0, "t": "0"}, {"a": 60, "t": "60"}, {"a": 120, "t": "120"}, {"a": 180, "t": "180"}, {"a": 240, "t": "240"}, {"a": 300, "t": "300"}]}, "transform": [{"calculate": "50.5*sin(datum.a*PI/180)", "as": "x"}, {"calculate": "50.5*cos(datum.a*PI/180)", "as": "y"}], "mark": {"type": "text", "fontSize": 13, "font": "Liberation Sans", "color": "#000", "align": "center", "baseline": "middle"}, "encoding": {"x": {"field": "x", "type": "quantitative", "scale": {"domain": [-45, 45], "nice": false, "zero": false}, "axis": null}, "y": {"field": "y", "type": "quantitative", "scale": {"domain": [-45, 45], "nice": false, "zero": false}}, "text": {"field": "t"}}},
{"data": {"name": "b_yz"}, "transform": [{"calculate": "max(datum.d + 40, 0)", "as": "rr"}, {"calculate": "datum.rr*sin(datum.a*PI/180)", "as": "x"}, {"calculate": "datum.rr*cos(datum.a*PI/180)", "as": "y"}], "mark": {"type": "line", "interpolate": "cardinal-closed", "strokeWidth": 1.5}, "encoding": {"x": {"field": "x", "type": "quantitative", "scale": {"domain": [-45, 45], "nice": false, "zero": false}, "axis": null}, "y": {"field": "y", "type": "quantitative", "scale": {"domain": [-45, 45], "nice": false, "zero": false}}, "order": {"field": "a", "type": "quantitative"}, "stroke": {"field": "f", "type": "nominal", "scale": {"domain": ["3 GHz", "6.5 GHz", "10 GHz"], "range": ["#000000", "#8b2246", "#8c8c8c"]}, "legend": null}}},
{"data": {"name": "b_yz"}, "transform": [{"filter": "datum.m === 1"}, {"calculate": "max(datum.d + 40, 0)", "as": "rr"}, {"calculate": "datum.rr*sin(datum.a*PI/180)", "as": "x"}, {"calculate": "datum.rr*cos(datum.a*PI/180)", "as": "y"}], "mark": {"type": "point", "opacity": 1, "strokeWidth": 1, "size": 120}, "encoding": {"x": {"field": "x", "type": "quantitative", "scale": {"domain": [-45, 45], "nice": false, "zero": false}, "axis": null}, "y": {"field": "y", "type": "quantitative", "scale": {"domain": [-45, 45], "nice": false, "zero": false}}, "shape": {"field": "f", "type": "nominal", "scale": {"domain": ["3 GHz", "6.5 GHz", "10 GHz"], "range": ["square", "circle", "triangle-up"]}, "legend": null}, "fill": {"field": "f", "type": "nominal", "scale": {"domain": ["3 GHz", "6.5 GHz", "10 GHz"], "range": ["#000000", "#ffffff", "#ffffff"]}, "legend": null}, "stroke": {"field": "f", "type": "nominal", "scale": {"domain": ["3 GHz", "6.5 GHz", "10 GHz"], "range": ["#000000", "#8b2246", "#8c8c8c"]}, "legend": null}}}
]
}
]
},
{
"width": 214, "height": 214,
"title": {"text": "x-y plane", "orient": "bottom", "frame": "group", "anchor": "middle", "fontSize": 20, "fontWeight": "normal", "font": "Liberation Sans", "color": "#000", "offset": 4},
"resolve": {"scale": {"shape": "independent", "fill": "independent", "stroke": "independent"}, "legend": {"shape": "independent", "fill": "independent", "stroke": "independent"}},
"layer": [
{"data": {"values": [{"a": 0}, {"a": 60}, {"a": 120}]}, "transform": [{"calculate": "45*sin(datum.a*PI/180)", "as": "x"}, {"calculate": "45*cos(datum.a*PI/180)", "as": "y"}, {"calculate": "-datum.x", "as": "x2"}, {"calculate": "-datum.y", "as": "y2"}], "mark": {"type": "rule", "color": "#111", "strokeWidth": 1}, "encoding": {"x": {"field": "x", "type": "quantitative", "scale": {"domain": [-45, 45], "nice": false, "zero": false}, "axis": null}, "y": {"field": "y", "type": "quantitative", "scale": {"domain": [-45, 45], "nice": false, "zero": false}, "axis": {"values": [-40,-35,-30,-25,-20,-15,-10,-5,0,5,10,15,20,25,30,35,40], "labelExpr": "datum.value % 20 === 0 ? '' + (abs(datum.value) - 40) : ''", "offset": 22, "title": null, "grid": false, "domainColor": "#000", "domainWidth": 2, "tickColor": "#000", "tickWidth": 1.5, "tickSize": {"condition": {"test": "datum.value % 20 === 0", "value": 6}, "value": 3}, "labelFontSize": 13, "labelFont": "Liberation Sans", "labelColor": "#000", "labelPadding": 2, "labelOverlap": false, "labelFlush": false, "labelBound": false}}, "x2": {"field": "x2"}, "y2": {"field": "y2"}}},
{"data": {"values": [{"r": 45}]}, "mark": {"type": "point", "shape": "circle", "filled": false, "stroke": "#9a9a9a", "strokeWidth": 1, "opacity": 1}, "encoding": {"x": {"datum": 0, "type": "quantitative", "scale": {"domain": [-45, 45], "nice": false, "zero": false}, "axis": null}, "y": {"datum": 0, "type": "quantitative", "scale": {"domain": [-45, 45], "nice": false, "zero": false}}, "size": {"field": "r", "type": "quantitative", "scale": {"type": "pow", "exponent": 2, "domain": [0, 45], "range": [0, 45796]}, "legend": null}}},
{"data": {"values": [{"r": 20}, {"r": 40}]}, "mark": {"type": "point", "shape": "circle", "filled": false, "stroke": "#000", "strokeWidth": 1, "strokeDash": [4, 3], "opacity": 1}, "encoding": {"x": {"datum": 0, "type": "quantitative", "scale": {"domain": [-45, 45], "nice": false, "zero": false}, "axis": null}, "y": {"datum": 0, "type": "quantitative", "scale": {"domain": [-45, 45], "nice": false, "zero": false}}, "size": {"field": "r", "type": "quantitative", "scale": {"type": "pow", "exponent": 2, "domain": [0, 45], "range": [0, 45796]}, "legend": null}}},
{"data": {"values": [{"a": 0, "t": "0"}, {"a": 60, "t": "60"}, {"a": 120, "t": "120"}, {"a": 180, "t": "180"}, {"a": 240, "t": "240"}, {"a": 300, "t": "300"}]}, "transform": [{"calculate": "50.5*sin(datum.a*PI/180)", "as": "x"}, {"calculate": "50.5*cos(datum.a*PI/180)", "as": "y"}], "mark": {"type": "text", "fontSize": 13, "font": "Liberation Sans", "color": "#000", "align": "center", "baseline": "middle"}, "encoding": {"x": {"field": "x", "type": "quantitative", "scale": {"domain": [-45, 45], "nice": false, "zero": false}, "axis": null}, "y": {"field": "y", "type": "quantitative", "scale": {"domain": [-45, 45], "nice": false, "zero": false}}, "text": {"field": "t"}}},
{"data": {"name": "b_xy"}, "transform": [{"calculate": "max(datum.d + 40, 0)", "as": "rr"}, {"calculate": "datum.rr*sin(datum.a*PI/180)", "as": "x"}, {"calculate": "datum.rr*cos(datum.a*PI/180)", "as": "y"}], "mark": {"type": "line", "interpolate": "cardinal-closed", "strokeWidth": 1.5}, "encoding": {"x": {"field": "x", "type": "quantitative", "scale": {"domain": [-45, 45], "nice": false, "zero": false}, "axis": null}, "y": {"field": "y", "type": "quantitative", "scale": {"domain": [-45, 45], "nice": false, "zero": false}}, "order": {"field": "a", "type": "quantitative"}, "stroke": {"field": "f", "type": "nominal", "scale": {"domain": ["3 GHz", "6.5 GHz", "10 GHz"], "range": ["#000000", "#8b2246", "#8c8c8c"]}, "legend": null}}},
{"data": {"name": "b_xy"}, "transform": [{"filter": "datum.m === 1"}, {"calculate": "max(datum.d + 40, 0)", "as": "rr"}, {"calculate": "datum.rr*sin(datum.a*PI/180)", "as": "x"}, {"calculate": "datum.rr*cos(datum.a*PI/180)", "as": "y"}], "mark": {"type": "point", "opacity": 1, "strokeWidth": 1, "size": 120}, "encoding": {"x": {"field": "x", "type": "quantitative", "scale": {"domain": [-45, 45], "nice": false, "zero": false}, "axis": null}, "y": {"field": "y", "type": "quantitative", "scale": {"domain": [-45, 45], "nice": false, "zero": false}}, "shape": {"field": "f", "type": "nominal", "scale": {"domain": ["3 GHz", "6.5 GHz", "10 GHz"], "range": ["square", "circle", "triangle-up"]}, "legend": null}, "fill": {"field": "f", "type": "nominal", "scale": {"domain": ["3 GHz", "6.5 GHz", "10 GHz"], "range": ["#000000", "#ffffff", "#ffffff"]}, "legend": null}, "stroke": {"field": "f", "type": "nominal", "scale": {"domain": ["3 GHz", "6.5 GHz", "10 GHz"], "range": ["#000000", "#8b2246", "#8c8c8c"]}, "legend": null}}},
{"data": {"name": "b_xy"}, "transform": [{"filter": "false"}], "mark": {"type": "point", "opacity": 1, "strokeWidth": 1.8}, "encoding": {
"shape": {"field": "f", "type": "nominal", "scale": {"domain": ["3 GHz", "6.5 GHz", "10 GHz"], "range": ["M-1.85,0H-0.55M0.55,0H1.85M-0.55,-0.55H0.55V0.55H-0.55Z", "M-1.85,0H-0.6M0.6,0H1.85M-0.6,0A0.6,0.6,0,1,1,0.6,0A0.6,0.6,0,1,1,-0.6,0Z", "M-1.85,0H-0.42M0.42,0H1.85M0,-0.62L0.68,0.52H-0.68Z"]}, "legend": {"title": null, "orient": "none", "legendX": 286, "legendY": 71, "labelFontSize": 23, "labelFont": "Liberation Sans", "labelColor": "#000", "labelOffset": 14.5, "rowPadding": 6.5, "symbolSize": 400, "symbolStrokeWidth": 1.8, "labelLimit": 300}},
"fill": {"field": "f", "type": "nominal", "scale": {"domain": ["3 GHz", "6.5 GHz", "10 GHz"], "range": ["#000000", "#ffffff", "#ffffff"]}, "legend": {"title": null, "orient": "none", "legendX": 286, "legendY": 71, "labelFontSize": 23, "labelFont": "Liberation Sans", "labelColor": "#000", "labelOffset": 14.5, "rowPadding": 6.5, "symbolSize": 400, "symbolStrokeWidth": 1.8, "labelLimit": 300}},
"stroke": {"field": "f", "type": "nominal", "scale": {"domain": ["3 GHz", "6.5 GHz", "10 GHz"], "range": ["#000000", "#8b2246", "#8c8c8c"]}, "legend": {"title": null, "orient": "none", "legendX": 286, "legendY": 71, "labelFontSize": 23, "labelFont": "Liberation Sans", "labelColor": "#000", "labelOffset": 14.5, "rowPadding": 6.5, "symbolSize": 400, "symbolStrokeWidth": 1.8, "labelLimit": 300}}}}
]
}
]
}
]
}
